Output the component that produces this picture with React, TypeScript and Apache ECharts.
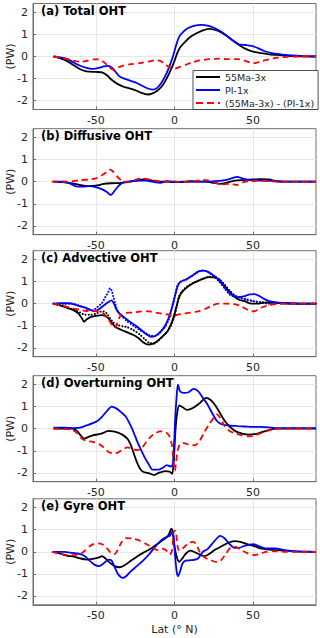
import { useEffect, useRef } from "react";
import * as echarts from "echarts";

type P = [number, number][];

const PANEL_TITLES = [
  "(a) Total OHT",
  "(b) Diffusive OHT",
  "(c) Advective OHT",
  "(d) Overturning OHT",
  "(e) Gyre OHT",
];
const X_TICKS = [-50, 0, 50];
const Y_TICKS = [-2, -1, 0, 1, 2];
const LEGEND_NAMES = ["55Ma-3x", "PI-1x", "(55Ma-3x) - (PI-1x)"];

// (a) Total
const totalEocene: P = [[-77,0],[-72,-0.1],[-68,-0.22],[-64,-0.4],[-60,-0.58],[-56,-0.67],[-50,-0.7],[-46,-0.72],[-43,-0.85],[-40,-1.05],[-36,-1.25],[-32,-1.38],[-28,-1.45],[-24,-1.55],[-21,-1.65],[-17,-1.72],[-14,-1.67],[-11,-1.55],[-8,-1.35],[-5,-1.0],[-2,-0.55],[0,-0.2],[2,0.2],[4,0.45],[7,0.68],[10,0.88],[14,1.05],[18,1.18],[22,1.25],[26,1.2],[30,1.08],[34,0.9],[38,0.68],[42,0.48],[46,0.32],[50,0.22],[55,0.15],[60,0.1],[65,0.07],[72,0.03],[80,0.01],[90,0]];
const totalPI: P = [[-77,0],[-72,-0.05],[-68,-0.12],[-64,-0.28],[-60,-0.42],[-56,-0.52],[-52,-0.56],[-48,-0.52],[-45,-0.45],[-42,-0.42],[-40,-0.5],[-38,-0.65],[-35,-0.9],[-32,-1.0],[-28,-1.1],[-24,-1.2],[-20,-1.35],[-17,-1.45],[-14,-1.5],[-11,-1.42],[-8,-1.15],[-5,-0.75],[-3,-0.4],[-1,0.0],[1,0.5],[3,0.9],[6,1.15],[9,1.3],[13,1.4],[17,1.43],[21,1.4],[25,1.3],[29,1.15],[33,0.95],[37,0.72],[41,0.55],[45,0.52],[49,0.48],[53,0.38],[57,0.25],[62,0.15],[68,0.1],[75,0.05],[82,0.02],[90,0]];
const totalDiff: P = [[-77,0],[-72,-0.05],[-68,-0.12],[-64,-0.2],[-60,-0.25],[-56,-0.2],[-52,-0.13],[-48,-0.13],[-45,-0.25],[-42,-0.45],[-39,-0.6],[-36,-0.5],[-33,-0.42],[-28,-0.35],[-22,-0.3],[-16,-0.22],[-12,-0.17],[-9,-0.2],[-6,-0.35],[-3,-0.5],[0,-0.55],[3,-0.48],[7,-0.38],[11,-0.27],[16,-0.18],[22,-0.12],[28,-0.1],[34,-0.12],[40,-0.12],[44,-0.17],[48,-0.27],[51,-0.3],[55,-0.22],[60,-0.13],[66,-0.05],[72,-0.02],[80,0],[90,0]];

// (b) Diffusive
const diffusiveEocene: P = [[-77,0],[-70,-0.03],[-65,-0.08],[-60,-0.15],[-55,-0.2],[-50,-0.18],[-45,-0.1],[-40,-0.07],[-35,-0.06],[-30,-0.02],[-25,0.05],[-20,0.1],[-15,0.06],[-10,0.0],[-5,0.0],[0,-0.02],[5,0.0],[10,0.02],[15,0.0],[20,0.0],[25,-0.05],[29,-0.1],[33,-0.05],[38,0.05],[45,0.08],[50,0.1],[55,0.12],[60,0.1],[65,0.02],[70,0],[90,0]];
const diffusivePI: P = [[-77,0],[-70,0.0],[-66,-0.1],[-62,-0.22],[-58,-0.22],[-54,-0.2],[-50,-0.25],[-46,-0.35],[-43,-0.47],[-40.5,-0.6],[-38,-0.4],[-35,-0.15],[-32,-0.02],[-28,0.02],[-22,0.05],[-18,0.05],[-14,0.0],[-9,-0.05],[-5,0.02],[0,0.0],[5,-0.02],[10,0.0],[15,0.0],[20,0.0],[25,0.02],[30,0.05],[35,0.12],[40,0.22],[43,0.15],[47,0.08],[52,0.06],[58,0.05],[65,0.02],[72,0],[90,0]];
const diffusiveDiff: P = [[-78,0],[-70,0.0],[-65,0.02],[-60,0.07],[-55,0.1],[-50,0.15],[-46,0.3],[-43,0.45],[-41,0.55],[-39,0.45],[-36,0.2],[-33,0.02],[-29,0.0],[-25,0.08],[-21,0.15],[-17,0.12],[-12,0.05],[-7,0.0],[-2,0.02],[3,0.0],[8,-0.02],[13,0.02],[18,0.08],[22,0.05],[26,-0.05],[30,-0.12],[35,-0.1],[40,-0.15],[44,-0.02],[48,0.02],[54,0.05],[60,0.02],[66,0],[90,0]];

// (c) Advective
const advectiveEocene: P = [[-77,0],[-72,-0.1],[-68,-0.2],[-64,-0.3],[-61,-0.45],[-59,-0.65],[-57.5,-0.82],[-56,-0.72],[-53,-0.6],[-50,-0.55],[-46,-0.52],[-43,-0.6],[-41,-0.75],[-39,-0.95],[-37,-1.08],[-34,-1.18],[-30,-1.3],[-26,-1.42],[-23,-1.55],[-20,-1.75],[-17,-1.85],[-14,-1.82],[-11,-1.7],[-8,-1.5],[-5,-1.3],[-3,-1.05],[-1,-0.7],[1,-0.2],[2.5,0.2],[4,0.45],[7,0.68],[10,0.85],[14,1.0],[18,1.12],[22,1.2],[26,1.18],[29,1.05],[32,0.8],[35,0.55],[38,0.32],[41,0.18],[45,0.1],[49,0.0],[53,0.0],[57,0.05],[62,0.05],[70,0.02],[80,0],[90,0]];
const advectiveEoceneAlt: P = [[-77,0],[-72,-0.08],[-68,-0.17],[-64,-0.28],[-60,-0.4],[-57,-0.5],[-53,-0.5],[-50,-0.45],[-47,-0.36],[-45,-0.35],[-43,-0.45],[-41,-0.65],[-39,-0.85],[-36,-0.97],[-33,-1.02],[-30,-1.07],[-26,-1.2],[-22,-1.4],[-19,-1.6],[-16,-1.78],[-13,-1.8],[-10,-1.65],[-7,-1.45],[-4,-1.2],[-2,-0.95],[0,-0.55],[1.5,-0.1],[3,0.35],[5,0.58],[8,0.78],[12,0.95],[17,1.1],[22,1.22],[26,1.22],[29,1.08],[32,0.85],[35,0.6],[38,0.4],[41,0.28],[45,0.18],[50,0.12],[55,0.07],[60,0.05],[70,0.02],[80,0],[90,0]];
const advectivePI: P = [[-77,0],[-72,0.02],[-67,0.02],[-63,-0.05],[-60,-0.12],[-56,-0.2],[-53,-0.3],[-51,-0.35],[-48,-0.25],[-45,-0.08],[-42,0.08],[-40,0.15],[-38.5,0.0],[-37,-0.25],[-35,-0.45],[-32,-0.62],[-29,-0.78],[-25,-0.98],[-21,-1.2],[-18,-1.38],[-15,-1.5],[-12,-1.45],[-9,-1.28],[-6,-1.0],[-3.5,-0.6],[-1.5,-0.15],[0.5,0.4],[2,0.8],[4,1.0],[8,1.12],[12,1.3],[15,1.45],[18,1.5],[21,1.45],[24,1.32],[27,1.15],[30,0.92],[33,0.65],[36,0.42],[40,0.3],[44,0.33],[48,0.42],[51,0.43],[54,0.35],[57,0.22],[61,0.1],[66,0.05],[72,0.02],[80,0],[90,0]];
const advectivePIAlt: P = [[-77,0],[-70,0.0],[-65,0.0],[-61,-0.08],[-58,-0.15],[-55,-0.25],[-52,-0.3],[-49,-0.15],[-46,0.05],[-44,0.3],[-42,0.55],[-41,0.7],[-40,0.6],[-39,0.35],[-37.5,-0.05],[-36,-0.35],[-33,-0.6],[-30,-0.8],[-26,-1.0],[-22,-1.2],[-18,-1.35],[-15,-1.45],[-12,-1.45],[-9,-1.3],[-6,-1.05],[-3.5,-0.7],[-1.5,-0.15],[0.5,0.45],[2,0.85],[4,1.0],[7,1.08],[11,1.25],[14,1.4],[17,1.5],[20,1.48],[23,1.35],[26,1.18],[29,0.95],[32,0.68],[35,0.42],[38,0.32],[42,0.28],[46,0.2],[50,0.12],[55,0.05],[60,0.0],[66,0.02],[72,0.02],[80,0],[90,0]];
const advectiveDiff: P = [[-77,0],[-72,-0.08],[-68,-0.15],[-64,-0.22],[-60,-0.28],[-56,-0.33],[-52,-0.32],[-48,-0.35],[-45,-0.45],[-42,-0.7],[-40,-0.95],[-38.5,-1.1],[-37,-1.0],[-35.5,-0.7],[-34,-0.5],[-31,-0.42],[-26,-0.4],[-21,-0.35],[-16,-0.35],[-12,-0.4],[-8,-0.45],[-4,-0.5],[-1,-0.58],[2,-0.5],[6,-0.45],[10,-0.4],[15,-0.35],[20,-0.22],[24,-0.08],[28,0.0],[33,0.0],[38,-0.02],[42,-0.1],[45,-0.22],[48,-0.32],[50,-0.35],[53,-0.28],[56,-0.15],[60,-0.07],[65,-0.02],[72,0],[80,0],[90,0]];

// (d) Overturning
const overturningEocene: P = [[-77,0],[-70,0.0],[-65,0.0],[-62,-0.1],[-60,-0.28],[-57.5,-0.45],[-55,-0.38],[-52,-0.3],[-48,-0.25],[-45,-0.18],[-42,-0.1],[-39,-0.12],[-36,-0.18],[-33,-0.28],[-30,-0.45],[-28,-0.7],[-26,-1.1],[-24,-1.5],[-22,-1.8],[-20,-1.95],[-16,-2.02],[-13,-2.1],[-10,-2.0],[-6,-1.92],[-3,-1.95],[-1.5,-2.05],[-0.5,-1.5],[0.5,-0.2],[1.5,0.6],[3,1.05],[5,0.98],[8,0.85],[12,0.95],[16,1.15],[20,1.4],[23,1.3],[26,1.05],[29,0.7],[32,0.35],[35,0.1],[39,-0.12],[43,-0.22],[47,-0.27],[51,-0.25],[55,-0.17],[60,-0.06],[65,0.0],[75,0],[90,0]];
const overturningPI: P = [[-77,0.05],[-70,0.05],[-64,0.03],[-60,0.05],[-56,0.15],[-52,0.25],[-49,0.35],[-46,0.55],[-43,0.8],[-40,1.0],[-37,0.92],[-34,0.75],[-31,0.55],[-29,0.3],[-27,0.0],[-25,-0.35],[-23,-0.7],[-21,-1.0],[-19,-1.3],[-16.5,-1.6],[-14,-1.85],[-10,-1.85],[-7,-1.75],[-5,-1.65],[-3,-1.7],[-1.5,-1.7],[-0.5,-1.0],[0.5,0.5],[1.5,1.6],[2.2,2.0],[3.5,1.7],[6,1.62],[9,1.65],[12,1.8],[15,1.7],[18,1.4],[21,1.1],[24,0.7],[27,0.35],[30,0.2],[34,0.15],[40,0.12],[45,0.1],[50,0.08],[55,0.08],[60,0.06],[64,0.03],[70,0.03],[80,0.03],[90,0.03]];
const overturningDiff: P = [[-77,0],[-70,-0.02],[-65,-0.05],[-62,-0.2],[-59,-0.45],[-56,-0.55],[-52,-0.6],[-48,-0.7],[-45,-0.85],[-42,-1.05],[-39,-1.12],[-36,-1.08],[-33,-0.95],[-30,-0.85],[-27,-0.9],[-24,-0.97],[-21,-0.9],[-18,-0.6],[-15,-0.35],[-12,-0.2],[-9,-0.12],[-6,-0.15],[-3.5,-0.3],[-1.5,-0.8],[-0.5,-1.6],[0.3,-1.9],[1,-1.5],[2,-1.0],[3.5,-0.7],[6,-0.65],[9,-0.72],[13,-0.75],[16,-0.55],[19,-0.15],[22,0.2],[25,0.5],[27,0.65],[29,0.5],[32,0.1],[35,-0.1],[39,-0.22],[43,-0.3],[47,-0.35],[51,-0.3],[55,-0.2],[60,-0.08],[65,0.0],[75,0],[90,0]];

// (e) Gyre
const gyreEocene: P = [[-77,0],[-72,-0.1],[-68,-0.18],[-64,-0.22],[-60,-0.3],[-56,-0.35],[-52,-0.32],[-48,-0.25],[-46,-0.2],[-44,-0.3],[-41,-0.5],[-38,-0.65],[-35,-0.7],[-32,-0.62],[-28,-0.42],[-24,-0.22],[-20,-0.05],[-16,0.1],[-12,0.3],[-8,0.5],[-5,0.65],[-3.5,0.8],[-2,1.05],[-1,0.85],[0,0.25],[1.5,-0.25],[3,-0.45],[5,-0.3],[7,-0.1],[10,0.05],[13,-0.02],[16,-0.12],[19,-0.2],[22,-0.1],[26,0.1],[30,0.25],[34,0.4],[38,0.48],[42,0.45],[46,0.35],[50,0.28],[54,0.17],[58,0.12],[64,0.08],[70,0.05],[78,0.02],[90,0]];
const gyrePI: P = [[-77,0],[-70,0.0],[-65,-0.05],[-60,-0.1],[-57,-0.2],[-54,-0.4],[-51,-0.58],[-48,-0.65],[-45,-0.52],[-42,-0.35],[-40,-0.4],[-38,-0.7],[-36,-1.0],[-33,-1.18],[-31,-1.12],[-28,-0.9],[-24,-0.65],[-20,-0.4],[-16,-0.1],[-12,0.25],[-8,0.55],[-5,0.68],[-3,0.72],[-1.5,0.9],[-0.5,0.6],[0.5,-0.3],[1.5,-0.95],[2.3,-1.1],[3.5,-0.9],[5,-0.55],[7,-0.4],[11,-0.38],[15,-0.3],[18,0.0],[21,0.12],[25,0.45],[29,0.72],[32,0.6],[35,0.35],[38,0.18],[41,0.18],[45,0.28],[50,0.35],[54,0.25],[58,0.15],[64,0.15],[70,0.08],[78,0.02],[90,0]];
const gyreDiff: P = [[-78,0],[-72,-0.1],[-68,-0.15],[-64,-0.15],[-60,-0.1],[-57,0.05],[-54,0.25],[-51,0.36],[-48,0.38],[-45,0.3],[-42,0.08],[-40,-0.08],[-38,-0.1],[-36,0.1],[-34,0.4],[-31,0.62],[-27,0.6],[-22,0.5],[-18,0.35],[-14,0.2],[-11,0.08],[-8,0.15],[-5,0.05],[-3,-0.12],[-1.5,0.1],[-0.3,0.95],[0.7,0.95],[1.8,0.3],[3,0.05],[6,0.2],[9,0.4],[12,0.45],[14,0.3],[16,0.0],[19,-0.25],[23,-0.38],[27,-0.47],[30,-0.35],[33,-0.05],[36,0.2],[39,0.22],[42,0.1],[46,-0.05],[50,-0.15],[54,-0.1],[58,0.0],[63,0.03],[70,0],[90,0]];

const PANELS: { eo: P; pi: P; diff: P; eoAlt?: P; piAlt?: P }[] = [
  { eo: totalEocene, pi: totalPI, diff: totalDiff },
  { eo: diffusiveEocene, pi: diffusivePI, diff: diffusiveDiff },
  { eo: advectiveEocene, pi: advectivePI, diff: advectiveDiff, eoAlt: advectiveEoceneAlt, piAlt: advectivePIAlt },
  { eo: overturningEocene, pi: overturningPI, diff: overturningDiff },
  { eo: gyreEocene, pi: gyrePI, diff: gyreDiff },
];

const GRID_TOPS = [3.5, 128.7, 250.7, 375.7, 498.8];
const GRID_H = 106;
const FONT = "DejaVu Sans";
const SOLID_ICON = "path://M0,0H24V2H0Z";
const DASH_ICON = "path://M0,0H7V2H0ZM11,0H18V2H11ZM22,0H24V2H22Z";

export default function App() {
  const ref = useRef<HTMLDivElement>(null);
  useEffect(() => {
    if (!ref.current) return;
    const chart = echarts.init(ref.current, undefined, { renderer: "svg" });
    const grids: any[] = [];
    const xAxes: any[] = [];
    const yAxes: any[] = [];
    const titles: any[] = [];
    const series: any[] = [];
    const axisLine = { show: true, onZero: false, lineStyle: { color: "#6e6e6e", width: 1 } };
    PANELS.forEach((p, i) => {
      grids.push({
        left: 33, width: 283, top: GRID_TOPS[i], height: GRID_H,
        containLabel: false, outerBoundsMode: "none",
        show: true, borderColor: "#6e6e6e", borderWidth: 1, backgroundColor: "#fff",
      });
      xAxes.push({
        type: "value", gridIndex: i, min: -90, max: 90,
        name: i === 4 ? "Lat (° N)" : "", nameLocation: "middle", nameGap: 19, nameMoveOverlap: false,
        nameTextStyle: { fontFamily: FONT, fontSize: 11, color: "#262626" },
        axisLine,
        axisTick: { show: true, inside: true, length: 3, customValues: X_TICKS, lineStyle: { color: "#6e6e6e" } },
        axisLabel: { customValues: X_TICKS, fontFamily: FONT, fontSize: 11, color: "#262626", margin: 5 },
        splitLine: { show: true, lineStyle: { color: "#e6e6e6", width: 1 } },
      });
      yAxes.push({
        type: "value", gridIndex: i, min: -2.4, max: 2.4,
        name: "(PW)", nameLocation: "middle", nameGap: 17, nameRotate: 90, nameMoveOverlap: false,
        nameTextStyle: { fontFamily: FONT, fontSize: 11, color: "#262626" },
        axisLine,
        axisTick: { show: true, inside: true, length: 3, customValues: Y_TICKS, lineStyle: { color: "#6e6e6e" } },
        axisLabel: { customValues: Y_TICKS, fontFamily: FONT, fontSize: 11, color: "#262626", margin: 5 },
        splitLine: { show: true, lineStyle: { color: "#e6e6e6", width: 1 } },
      });
      titles.push({
        text: PANEL_TITLES[i], left: 41, top: GRID_TOPS[i] + 1, padding: 0,
        textStyle: { fontFamily: FONT, fontSize: 11.5, fontWeight: "bold", color: "#000" },
      });
      const base = { type: "line", xAxisIndex: i, yAxisIndex: i, showSymbol: false, symbol: "none", smooth: 0.25, z: 3 };
      if (p.eoAlt) {
        series.push({ ...base, name: "55Ma-3x alt", data: p.eoAlt, lineStyle: { color: "#000", width: 2, type: [0.1, 3], cap: "round" }, z: 2 });
      }
      if (p.piAlt) {
        series.push({ ...base, name: "PI-1x alt", data: p.piAlt, lineStyle: { color: "#0000ff", width: 2, type: [0.1, 3], cap: "round" }, z: 2 });
      }
      series.push({ ...base, name: LEGEND_NAMES[0], data: p.eo, color: "#000", lineStyle: { color: "#000", width: 1.8 } });
      series.push({ ...base, name: LEGEND_NAMES[1], data: p.pi, color: "#0000ff", lineStyle: { color: "#0000ff", width: 1.8 } });
      series.push({ ...base, name: LEGEND_NAMES[2], data: p.diff, color: "#ff0000", lineStyle: { color: "#ff0000", width: 1.8, type: [6, 4] } });
    });
    chart.setOption({
      animation: false,
      backgroundColor: "#fff",
      grid: grids,
      xAxis: xAxes,
      yAxis: yAxes,
      title: titles,
      legend: {
        data: [
          { name: LEGEND_NAMES[0], icon: SOLID_ICON, itemStyle: { color: "#000" } },
          { name: LEGEND_NAMES[1], icon: SOLID_ICON, itemStyle: { color: "#0000ff" } },
          { name: LEGEND_NAMES[2], icon: DASH_ICON, itemStyle: { color: "#ff0000" } },
        ],
        orient: "vertical", left: 193, top: 70.5,
        backgroundColor: "#fff", borderColor: "#262626", borderWidth: 0.8,
        padding: [1, 4, 1, 3], itemGap: 2, itemWidth: 24, itemHeight: 2,
        selectedMode: false,
        textStyle: { fontFamily: FONT, fontSize: 9.5, color: "#262626", lineHeight: 11 },
      },
      series,
    });
    return () => chart.dispose();
  }, []);
  return <div ref={ref} style={{ position: "fixed", left: 0, top: 0, width: 320, height: 638 }} />;
}
